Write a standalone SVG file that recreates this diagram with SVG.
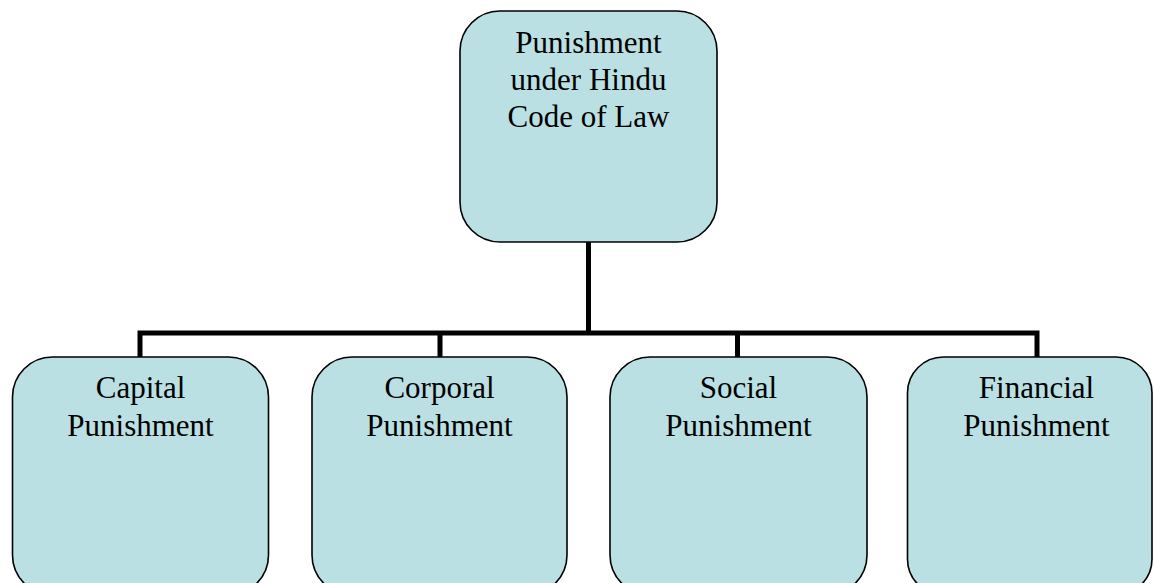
<svg xmlns="http://www.w3.org/2000/svg" width="1154" height="583" viewBox="0 0 1154 583">
<style>
.box{fill:#bae0e3;stroke:#000;stroke-width:1.6}
.t{font-family:"Liberation Serif","Times New Roman",serif;font-size:31px;fill:#000;text-anchor:middle}
.c{stroke:#000;stroke-width:5;fill:none;stroke-linecap:square}
</style>
<rect width="1154" height="583" fill="#fff"/>
<g id="connectors">
<path class="c" d="M588.5 243V333M140 333H1037M140 333V356M440 333V356M737.5 333V356M1037 333V356"/>
</g>
<g id="root">
<rect class="box" x="460" y="11" width="257" height="231" rx="40"/>
<text class="t" x="588.5" y="53">Punishment</text>
<text class="t" x="588.5" y="90">under Hindu</text>
<text class="t" x="588.5" y="127">Code of Law</text>
</g>
<g id="capital">
<rect class="box" x="12.5" y="357" width="256" height="238" rx="40"/>
<text class="t" x="140.5" y="398">Capital</text>
<text class="t" x="140.5" y="436">Punishment</text>
</g>
<g id="corporal">
<rect class="box" x="312" y="357" width="255" height="238" rx="40"/>
<text class="t" x="439.5" y="398">Corporal</text>
<text class="t" x="439.5" y="436">Punishment</text>
</g>
<g id="social">
<rect class="box" x="610" y="357" width="257" height="238" rx="40"/>
<text class="t" x="738.5" y="398">Social</text>
<text class="t" x="738.5" y="436">Punishment</text>
</g>
<g id="financial">
<rect class="box" x="907.5" y="357" width="244.5" height="238" rx="36"/>
<text class="t" x="1036.5" y="398">Financial</text>
<text class="t" x="1036.5" y="436">Punishment</text>
</g>
</svg>
